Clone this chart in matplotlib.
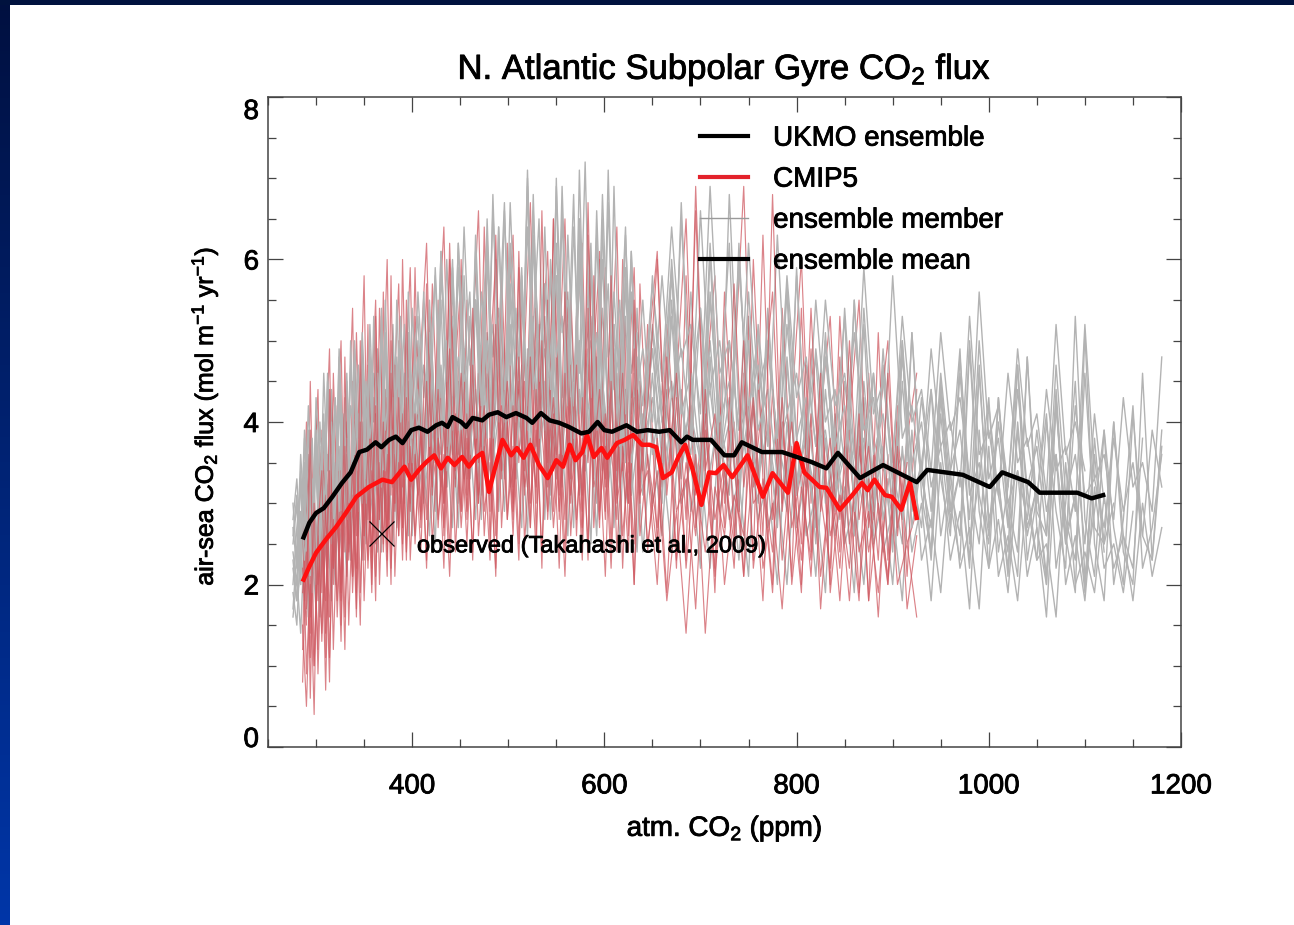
import numpy as np
import matplotlib
matplotlib.use('Agg')
import matplotlib.pyplot as plt
import matplotlib.patheffects as pe
import matplotlib.transforms as mtransforms
from matplotlib.colors import LinearSegmentedColormap
from matplotlib.lines import Line2D
from matplotlib.patches import Rectangle
from matplotlib.ticker import MultipleLocator

plt.rcParams['font.family'] = ['Liberation Sans', 'DejaVu Sans']
plt.rcParams['mathtext.fontset'] = 'custom'
plt.rcParams['mathtext.rm'] = 'Liberation Sans'
plt.rcParams['mathtext.it'] = 'Liberation Sans:italic'
plt.rcParams['mathtext.bf'] = 'Liberation Sans:bold'
plt.rcParams['mathtext.default'] = 'regular'

# ---- ensemble means (atm. CO2 in ppm, flux in mol m-2 yr-1) ----
UKMO_MEAN_PPM = [287, 293, 300, 308, 317, 327, 336, 345, 353, 362, 368, 376, 383, 390,
                 399, 407, 416, 425, 431, 437, 442, 451, 456, 463, 473, 480, 489, 498,
                 508, 519, 525, 534, 543, 553, 563, 576, 584, 593, 600, 608, 623, 634,
                 645, 657, 668, 680, 686, 692, 711, 725, 735, 743, 764, 785, 795, 815,
                 831, 843, 866, 890, 925, 936, 973, 1001, 1014, 1041, 1053, 1092, 1107, 1119]
UKMO_MEAN_FLUX = [2.58, 2.76, 2.88, 2.94, 3.08, 3.25, 3.38, 3.63, 3.66, 3.75, 3.69, 3.78, 3.82, 3.74,
                  3.90, 3.93, 3.88, 3.96, 3.99, 3.94, 4.06, 4.00, 3.94, 4.05, 4.02, 4.09, 4.12, 4.06,
                  4.11, 4.05, 3.99, 4.11, 4.02, 3.99, 3.94, 3.86, 3.88, 4.00, 3.90, 3.88, 3.96, 3.88,
                  3.90, 3.88, 3.90, 3.75, 3.82, 3.78, 3.78, 3.59, 3.59, 3.75, 3.63, 3.63, 3.59, 3.51,
                  3.43, 3.62, 3.31, 3.47, 3.26, 3.41, 3.35, 3.20, 3.38, 3.26, 3.13, 3.13, 3.06, 3.10]

CMIP5_MEAN_PPM = [287, 293, 300, 310, 321, 331, 342, 355, 369, 379, 392, 399, 407, 415,
                  423, 430, 437, 444, 452, 459, 466, 473, 480, 485, 494, 503, 509, 516,
                  523, 532, 541, 550, 557, 564, 570, 577, 582, 589, 597, 603, 613, 621,
                  630, 639, 647, 654, 661, 670, 677, 684, 692, 701, 709, 716, 724, 733,
                  749, 765, 775, 791, 800, 808, 824, 831, 845, 858, 868, 874, 881, 892,
                  899, 909, 918, 925]
CMIP5_MEAN_FLUX = [2.06, 2.22, 2.39, 2.55, 2.71, 2.88, 3.08, 3.20, 3.29, 3.26, 3.45, 3.29, 3.41, 3.51,
                   3.59, 3.43, 3.56, 3.47, 3.57, 3.45, 3.56, 3.62, 3.14, 3.38, 3.78, 3.59, 3.68, 3.56,
                   3.72, 3.47, 3.31, 3.53, 3.45, 3.72, 3.53, 3.63, 3.84, 3.57, 3.68, 3.56, 3.74, 3.78,
                   3.84, 3.72, 3.72, 3.69, 3.31, 3.38, 3.57, 3.72, 3.41, 2.98, 3.38, 3.37, 3.47, 3.32,
                   3.59, 3.08, 3.37, 3.13, 3.74, 3.38, 3.20, 3.19, 2.92, 3.10, 3.25, 3.16, 3.29, 3.10,
                   3.08, 2.92, 3.26, 2.82]

# ---- individual members ----
UKMO_PPM = [276, 280, 284, 288, 292, 296, 300, 304, 308, 312, 316, 320, 324, 328, 332, 336,
            340, 344, 348, 352, 356, 360, 364, 368, 372, 376, 380, 384, 388, 392, 396, 400,
            406, 412, 418, 424, 430, 436, 442, 448, 454, 460, 466, 472, 478, 484, 490, 496,
            502, 508, 514, 520, 526, 532, 538, 544, 550, 556, 562, 568, 574, 580, 586, 592,
            598, 604, 610, 616, 622, 628, 634, 640,
            650, 660, 670, 680, 690, 700, 710, 720, 730, 740, 750, 760, 770, 780, 790, 800,
            810, 820, 830, 840, 850, 860, 870, 880, 890, 900, 910, 920, 930, 940, 950, 960,
            970, 980, 990, 1000, 1010, 1020, 1030, 1040, 1050, 1060, 1070, 1080, 1090, 1100,
            1110, 1120, 1130, 1140, 1150, 1160, 1170, 1180]

UKMO_MEMBERS = [
    [2.2, 1.8, 2.9, 2.3, 3.6, 2.6, 4.1, 2.8, 3.4, 2.2, 4.4, 3.1, 3.7, 2.7, 4.6, 3.0, 4.0, 3.3, 5.0, 3.2, 4.2, 2.9, 4.9, 3.5, 4.4, 3.1, 5.2, 3.6, 4.1, 3.2, 4.8, 3.7,
     4.6, 3.5, 5.3, 3.9, 4.4, 3.3, 5.7, 4.0, 4.8, 3.6, 6.0, 4.2, 4.5, 3.7, 6.4, 4.3, 5.1, 3.8, 5.5, 4.1, 6.8, 4.4, 4.9, 3.5, 5.8, 4.0, 5.2, 3.9, 6.2, 4.6, 5.0, 3.6, 5.4, 4.1, 4.7, 3.4, 5.9, 4.3, 4.5, 3.7,
     5.1, 4.0, 4.5, 3.3, 5.6, 3.8, 4.4, 3.4, 5.0, 3.9, 4.2, 3.2, 5.4, 3.6, 4.1, 3.1, 4.7, 3.7, 3.9, 2.9, 4.5, 3.4, 3.8, 2.8, 4.9, 3.3, 3.6, 3.0, 4.3, 3.2, 3.7, 2.7, 4.6, 3.1, 3.5, 2.6, 4.0, 3.0, 3.4, 2.8, 3.9, 2.9, 3.6, 2.5, 4.2, 3.1, 3.3, 2.7, 3.8, 2.9, 3.5, 2.6, 3.9, 3.2],
    [1.7, 2.4, 2.0, 3.3, 1.6, 2.9, 3.5, 2.1, 3.9, 2.6, 3.2, 2.4, 4.3, 2.8, 3.6, 2.5, 4.5, 2.9, 3.4, 2.6, 4.7, 3.0, 3.8, 2.7, 5.1, 3.1, 3.9, 2.9, 4.6, 3.3, 4.0, 2.8,
     5.0, 3.2, 4.3, 2.9, 5.5, 3.4, 4.1, 3.0, 5.8, 3.6, 4.4, 3.1, 6.1, 3.8, 4.2, 3.3, 5.6, 3.5, 4.7, 3.2, 6.3, 3.9, 4.5, 3.1, 7.0, 3.7, 4.8, 3.4, 5.9, 3.6, 4.3, 3.0, 6.5, 3.8, 4.6, 3.2, 5.3, 3.5, 4.0, 3.1,
     4.6, 3.0, 5.3, 3.4, 4.1, 2.8, 6.1, 3.5, 4.3, 2.9, 5.0, 3.3, 3.9, 2.7, 4.8, 3.2, 4.0, 2.5, 4.4, 3.1, 3.6, 2.6, 5.2, 3.0, 3.7, 2.4, 4.5, 2.9, 3.5, 2.3, 4.1, 2.8, 3.4, 2.2, 4.7, 2.7, 3.3, 2.1, 3.9, 2.6, 3.2, 2.0, 4.3, 2.5, 3.1, 1.9, 3.6, 2.4],
    [2.6, 3.1, 2.2, 3.8, 2.7, 3.3, 2.0, 4.0, 3.0, 3.6, 2.5, 4.2, 3.4, 3.9, 2.8, 4.7, 3.6, 4.1, 3.0, 4.5, 3.8, 4.3, 3.2, 5.3, 3.9, 4.4, 3.3, 4.8, 4.0, 4.6, 3.5, 5.4,
     4.1, 4.7, 3.7, 5.9, 4.3, 5.0, 3.9, 6.2, 4.5, 4.9, 3.8, 5.6, 4.6, 5.2, 4.0, 6.6, 4.7, 5.4, 4.1, 7.1, 4.4, 5.0, 3.9, 6.0, 4.8, 5.3, 4.2, 6.4, 4.6, 7.2, 4.3, 5.1, 4.0, 6.7, 4.5, 5.5, 4.1, 6.1, 4.4, 4.9,
     4.0, 5.8, 4.3, 4.9, 3.8, 6.6, 4.4, 5.0, 3.9, 5.9, 4.2, 4.7, 3.7, 6.3, 4.1, 4.6, 3.6, 5.5, 4.0, 4.4, 3.5, 5.1, 3.9, 4.3, 3.4, 5.8, 3.8, 4.2, 3.3, 4.9, 3.7, 4.0, 3.2, 5.3, 3.6, 3.9, 3.1, 4.6, 3.5, 3.8, 3.0, 4.4, 3.4, 3.7, 2.9, 5.2, 3.3, 3.6, 2.8, 4.3, 3.2, 3.5, 2.9, 4.8],
    [1.9, 1.5, 2.5, 1.8, 3.0, 2.2, 2.7, 1.6, 3.3, 2.4, 2.9, 2.0, 3.5, 2.6, 3.1, 2.3, 3.9, 2.8, 3.4, 2.5, 4.1, 3.0, 3.5, 2.4, 4.2, 3.2, 3.7, 2.7, 4.4, 3.1, 3.8, 2.6,
     4.3, 3.0, 3.7, 2.5, 4.6, 3.2, 3.9, 2.7, 4.9, 3.3, 4.0, 2.8, 5.1, 3.5, 4.1, 2.9, 4.7, 3.4, 3.9, 2.6, 5.3, 3.6, 4.2, 2.8, 4.8, 3.3, 4.0, 2.7, 5.0, 3.4, 3.8, 2.6, 4.6, 3.2, 3.9, 2.5, 4.4, 3.1, 3.7, 2.4,
     3.9, 2.6, 4.4, 3.0, 3.5, 2.2, 4.8, 2.9, 3.6, 2.3, 4.2, 2.8, 3.3, 2.0, 4.0, 2.7, 3.4, 2.1, 3.8, 2.6, 3.2, 1.9, 4.3, 2.5, 3.1, 2.0, 3.7, 2.4, 3.0, 1.8, 3.5, 2.3, 2.9, 1.7, 3.9, 2.2, 2.8, 1.9, 3.4, 2.1, 2.7, 1.6, 3.6, 2.0, 2.6, 1.8, 3.2, 2.2, 2.5, 1.9, 2.9],
    [2.4, 2.0, 3.4, 2.5, 3.0, 1.9, 3.7, 3.1, 2.6, 4.5, 2.9, 3.5, 2.7, 4.1, 3.3, 2.8, 4.9, 3.2, 3.9, 3.0, 4.4, 3.6, 3.1, 5.4, 3.5, 4.2, 3.2, 4.7, 3.8, 3.3, 5.6, 3.9,
     4.4, 3.4, 5.0, 4.0, 3.6, 6.0, 4.2, 4.8, 3.5, 5.3, 4.3, 3.8, 6.5, 4.4, 5.1, 3.7, 5.7, 4.5, 3.9, 6.9, 4.6, 5.2, 3.8, 5.8, 4.2, 3.6, 6.3, 4.5, 5.0, 3.7, 6.0, 4.3, 3.9, 7.1, 4.4, 4.9, 3.6, 5.6, 4.1, 3.7,
     4.9, 3.5, 6.0, 4.2, 3.6, 5.4, 4.0, 3.3, 6.8, 4.1, 3.4, 5.2, 3.9, 3.1, 5.7, 3.8, 3.2, 4.9, 3.7, 3.0, 5.4, 3.6, 2.9, 4.6, 3.5, 2.8, 5.0, 3.4, 2.7, 4.4, 3.3, 2.6, 4.8, 3.2, 2.5, 4.2, 3.1, 2.4, 4.7, 3.0, 2.3, 4.0, 2.9, 2.2, 5.3, 2.8, 2.1, 3.9, 2.7, 2.0, 4.1, 2.6, 2.3, 3.7],
    [3.0, 2.3, 3.6, 2.8, 4.2, 3.1, 3.7, 2.6, 4.6, 3.4, 4.0, 2.9, 4.9, 3.6, 4.3, 3.1, 5.0, 3.8, 4.5, 3.3, 5.2, 4.0, 4.6, 3.4, 5.5, 4.1, 4.7, 3.6, 5.3, 4.2, 4.9, 3.8,
     5.6, 4.3, 5.1, 3.9, 6.1, 4.5, 5.3, 4.1, 6.4, 4.7, 5.5, 4.2, 6.0, 4.8, 5.4, 4.0, 6.7, 4.9, 5.6, 4.3, 6.2, 5.0, 5.7, 4.4, 6.9, 5.1, 5.5, 4.2, 6.5, 4.9, 5.3, 4.1, 6.8, 4.8, 5.2, 4.0, 6.3, 4.6, 5.1, 4.2,
     5.7, 4.5, 6.4, 4.8, 5.2, 4.1, 6.9, 4.6, 5.0, 3.9, 6.2, 4.4, 4.9, 3.8, 5.8, 4.3, 4.8, 3.7, 5.5, 4.2, 4.6, 3.6, 5.9, 4.1, 4.5, 3.5, 5.3, 4.0, 4.4, 3.4, 5.1, 3.9, 4.3, 3.3, 5.6, 3.8, 4.2, 3.2, 4.9, 3.7, 4.1, 3.1, 5.2, 3.6, 4.0, 3.4],
    [1.6, 2.1, 1.4, 2.6, 1.9, 2.4, 1.7, 3.0, 2.2, 2.7, 1.8, 3.2, 2.4, 2.9, 2.1, 3.4, 2.6, 3.1, 2.3, 3.6, 2.8, 3.3, 2.4, 3.8, 2.9, 3.4, 2.5, 3.9, 3.0, 3.5, 2.6, 4.0,
     3.1, 3.6, 2.6, 4.2, 3.2, 3.7, 2.7, 4.5, 3.3, 3.8, 2.8, 4.7, 3.4, 3.9, 2.9, 4.4, 3.2, 3.6, 2.7, 4.9, 3.5, 4.0, 2.8, 4.6, 3.3, 3.8, 2.6, 4.3, 3.1, 3.7, 2.5, 4.8, 3.4, 3.9, 2.7, 4.2, 3.0, 3.5, 2.4, 4.1,
     3.0, 3.6, 2.4, 4.4, 2.9, 3.5, 2.2, 4.0, 2.8, 3.3, 2.1, 4.6, 2.7, 3.2, 2.0, 3.8, 2.6, 3.1, 1.9, 4.1, 2.5, 3.0, 2.0, 3.6, 2.4, 2.9, 1.8, 3.9, 2.3, 2.8, 1.9, 3.4, 2.2, 2.7, 1.7, 3.7, 2.1, 2.6, 1.8, 3.2, 2.3, 2.5, 1.6, 3.5, 2.0, 2.4, 1.9, 3.1, 2.2, 2.6, 1.8, 3.0, 2.1, 2.7],
    [2.8, 3.3, 2.5, 3.9, 3.2, 2.4, 4.3, 3.5, 2.8, 4.6, 3.6, 2.9, 4.8, 3.8, 3.0, 4.2, 3.9, 3.2, 5.1, 4.0, 3.3, 4.6, 4.1, 3.4, 5.0, 4.2, 3.5, 4.5, 4.3, 3.6, 5.1, 4.4,
     3.9, 5.4, 4.5, 3.7, 5.8, 4.6, 3.8, 6.2, 4.7, 4.0, 5.5, 4.8, 4.1, 6.6, 4.9, 4.2, 6.0, 5.0, 4.3, 6.4, 4.8, 4.1, 5.7, 4.9, 4.0, 6.9, 4.7, 4.2, 6.1, 4.6, 3.9, 6.6, 4.5, 3.8, 5.6, 4.4, 3.7, 6.0, 4.3, 3.9,
     5.2, 4.2, 3.6, 6.5, 4.1, 3.5, 5.5, 4.0, 3.4, 6.1, 3.9, 3.3, 5.0, 3.8, 3.2, 5.8, 3.7, 3.1, 4.8, 3.6, 3.0, 5.5, 3.5, 2.9, 4.6, 3.4, 2.8, 5.1, 3.3, 2.7, 4.5, 3.2, 2.6, 5.0, 3.1, 2.5, 4.3, 3.0, 2.4, 4.8, 2.9, 2.6, 4.2, 2.8, 2.3, 4.6, 2.7, 2.5, 4.0, 2.6, 2.2, 3.8],
    [2.0, 2.7, 3.2, 2.3, 2.9, 3.8, 2.4, 3.3, 4.0, 2.7, 3.5, 4.3, 2.9, 3.7, 4.5, 3.0, 3.8, 4.7, 3.1, 4.0, 4.9, 3.3, 4.1, 5.1, 3.4, 4.2, 5.0, 3.5, 4.3, 5.2, 3.6, 4.4,
     5.3, 3.7, 4.6, 5.8, 3.8, 4.7, 6.0, 3.9, 4.8, 5.6, 3.8, 4.9, 6.3, 4.0, 5.0, 6.7, 4.1, 4.8, 5.9, 3.9, 5.1, 6.5, 4.0, 4.9, 5.8, 3.8, 4.7, 6.8, 4.1, 5.0, 6.2, 3.9, 4.6, 5.7, 3.7, 4.8, 6.4, 3.8, 4.5, 5.5,
     3.6, 4.4, 5.9, 3.5, 4.3, 5.4, 3.4, 4.2, 6.2, 3.3, 4.1, 5.1, 3.2, 4.0, 5.6, 3.1, 3.9, 4.8, 3.0, 3.8, 5.3, 2.9, 3.7, 4.6, 2.8, 3.6, 5.0, 2.7, 3.5, 4.4, 2.6, 3.4, 4.9, 2.5, 3.3, 4.3, 2.4, 3.2, 4.7, 2.3, 3.1, 4.1, 2.2, 3.0, 4.5, 2.1, 2.9, 3.9, 2.0, 2.8, 4.2, 2.2, 2.7, 3.6],
    [2.3, 1.8, 2.2, 2.9, 2.1, 3.1, 2.5, 3.7, 2.3, 3.0, 4.1, 2.6, 3.3, 2.4, 4.0, 2.8, 3.6, 2.6, 4.4, 3.0, 3.8, 2.7, 4.3, 3.2, 3.9, 2.8, 4.6, 3.3, 4.0, 3.0, 4.5, 3.4,
     4.2, 3.1, 4.9, 3.5, 4.3, 3.2, 5.2, 3.6, 4.4, 3.3, 5.5, 3.7, 4.6, 3.4, 5.1, 3.8, 4.5, 3.3, 5.7, 3.9, 4.7, 3.5, 5.3, 3.7, 4.6, 3.2, 5.6, 3.8, 4.4, 3.4, 5.9, 3.9, 4.5, 3.3, 5.2, 3.6, 4.3, 3.1, 5.4, 3.7,
     4.3, 3.2, 5.5, 3.6, 4.2, 3.0, 5.0, 3.5, 4.0, 2.9, 5.3, 3.4, 3.9, 2.8, 4.7, 3.3, 3.8, 2.7, 5.1, 3.2, 3.7, 2.6, 4.5, 3.1, 3.6, 2.5, 4.9, 3.0, 3.5, 2.4, 4.3, 2.9, 3.4, 2.3, 4.6, 2.8, 3.3, 2.2, 4.0, 2.7, 3.2, 2.1, 4.4, 2.6, 3.1, 2.0, 3.8, 2.5, 3.0],
    [2.5, 3.0, 2.0, 3.5, 2.8, 2.2, 3.9, 3.0, 2.5, 4.4, 3.2, 2.6, 4.6, 3.4, 2.8, 5.0, 3.5, 2.9, 4.7, 3.7, 3.0, 5.3, 3.8, 3.1, 4.9, 3.9, 3.2, 5.5, 4.0, 3.3, 5.1, 4.1,
     3.4, 5.6, 4.2, 3.5, 6.1, 4.3, 3.6, 5.9, 4.4, 3.7, 6.3, 4.5, 3.8, 6.8, 4.6, 3.9, 6.2, 4.4, 3.7, 7.0, 4.5, 3.8, 6.4, 4.3, 3.6, 6.6, 4.2, 3.5, 7.1, 4.4, 3.7, 6.3, 4.3, 3.6, 6.9, 4.2, 3.5, 6.1, 4.1, 3.4,
     5.8, 4.0, 3.3, 6.7, 3.9, 3.2, 5.6, 3.8, 3.1, 6.2, 3.7, 3.0, 5.3, 3.6, 2.9, 5.9, 3.5, 2.8, 5.0, 3.4, 2.7, 5.5, 3.3, 2.6, 4.7, 3.2, 2.5, 5.1, 3.1, 2.4, 4.4, 3.0, 2.3, 4.9, 2.9, 2.2, 4.3, 2.8, 2.1, 4.8, 2.7, 2.0, 4.2, 2.6, 1.9, 5.1, 2.5, 1.8, 4.0, 2.4, 2.0, 4.6, 2.3, 3.9],
    [2.7, 2.2, 3.3, 2.6, 3.9, 2.9, 3.4, 2.5, 4.1, 3.1, 3.6, 2.7, 4.4, 3.3, 3.8, 2.9, 4.6, 3.4, 4.0, 3.0, 4.8, 3.6, 4.2, 3.2, 5.0, 3.7, 4.3, 3.3, 4.9, 3.8, 4.5, 3.5,
     4.8, 3.6, 5.5, 4.0, 4.7, 3.7, 5.9, 4.2, 4.9, 3.8, 6.1, 4.3, 5.0, 3.9, 6.4, 4.4, 5.2, 4.0, 5.8, 4.2, 6.6, 4.5, 5.1, 3.9, 6.2, 4.3, 5.0, 3.8, 6.5, 4.4, 5.2, 3.9, 6.0, 4.2, 4.9, 3.7, 5.7, 4.1, 4.8, 3.8,
     4.9, 3.7, 5.8, 4.1, 4.6, 3.5, 6.2, 4.0, 4.5, 3.4, 5.6, 3.9, 4.4, 3.3, 5.2, 3.8, 4.3, 3.2, 5.0, 3.7, 4.2, 3.1, 5.4, 3.6, 4.1, 3.0, 4.8, 3.5, 4.0, 2.9, 4.6, 3.4, 3.9, 2.8, 5.0, 3.3, 3.8, 2.7, 4.4, 3.2, 3.7, 2.6, 4.7, 3.1, 3.6, 2.5, 4.1, 3.0],
]

CMIP5_PPM = [286, 290, 294, 298, 302, 306, 310, 314, 318, 322, 326, 330, 334, 338, 342,
             346, 350, 354, 358, 362, 366, 370, 374, 378, 382, 386, 390, 394, 398,
             403, 409, 415, 421, 427, 433, 439, 445, 451, 457, 463, 469, 475, 481, 487, 493,
             499, 505, 511, 517, 523, 529, 535, 541, 547, 553, 559, 565, 571, 577, 583, 589,
             595, 601, 607, 613, 619, 625, 631, 637,
             645, 655, 665, 675, 685, 695, 705, 715, 725, 735, 745, 755, 765, 775, 785, 795,
             805, 815, 825, 835, 845, 855, 865, 875, 885, 895, 905, 915, 925]

CMIP5_MEMBERS = [
    [1.2, 3.4, 0.6, 2.9, 1.8, 3.8, 1.1, 3.3, 2.2, 4.2, 1.5, 3.6, 2.4, 4.5, 1.7, 3.9, 2.6, 5.2, 2.0, 4.1, 2.8, 5.6, 2.3, 4.4, 2.9, 5.0, 2.5, 4.6, 3.0,
     5.9, 2.7, 4.5, 3.1, 5.5, 2.6, 4.8, 3.2, 6.0, 2.8, 4.3, 3.0, 5.4, 2.5, 4.7, 3.3, 6.2, 2.9, 4.4, 3.1, 5.7, 2.6, 4.6, 3.2, 6.5, 2.8, 4.2, 3.0, 5.3, 2.7, 4.9, 3.3, 6.1, 2.9, 4.5, 3.1, 5.6, 2.6, 4.3, 3.0,
     5.2, 2.5, 4.4, 2.2, 5.8, 2.7, 4.1, 1.9, 5.0, 2.6, 4.6, 2.3, 6.3, 2.8, 4.0, 2.1, 5.4, 2.4, 4.2, 2.0, 4.8, 2.5, 3.9, 1.8, 5.1, 2.3, 4.0, 2.1, 4.4],
    [2.8, 0.9, 2.1, 0.4, 3.0, 1.3, 2.6, 0.8, 3.5, 1.6, 2.9, 1.2, 3.7, 1.9, 3.1, 1.5, 4.0, 2.2, 3.4, 1.8, 4.3, 2.4, 3.6, 2.0, 4.7, 2.6, 3.8, 2.3, 4.2,
     2.5, 3.9, 2.2, 4.8, 2.7, 4.0, 2.4, 5.1, 2.9, 4.1, 2.3, 4.6, 2.6, 3.8, 2.1, 5.3, 2.8, 4.2, 2.5, 4.9, 2.7, 4.4, 2.2, 5.5, 2.9, 4.0, 2.4, 4.7, 2.6, 4.3, 2.3, 5.8, 2.8, 4.1, 2.5, 4.6, 2.2, 3.9, 2.0, 4.5,
     2.4, 3.8, 1.9, 4.3, 2.2, 3.6, 1.4, 3.2, 2.6, 4.0, 2.1, 3.5, 1.8, 4.4, 2.3, 3.7, 2.0, 4.1, 1.7, 3.4, 2.2, 3.9, 1.9, 3.3, 1.6, 3.6, 2.0, 2.5, 1.6],
    [2.2, 1.5, 3.9, 1.0, 2.7, 3.4, 1.4, 4.4, 2.0, 3.1, 1.8, 4.8, 2.3, 3.5, 1.9, 5.0, 2.6, 3.7, 2.2, 5.3, 2.8, 4.0, 2.4, 5.8, 3.0, 4.3, 2.7, 5.5, 3.2,
     4.1, 2.9, 5.7, 3.3, 4.4, 3.0, 6.0, 3.4, 4.6, 3.1, 5.4, 3.5, 4.2, 2.9, 6.3, 3.6, 4.5, 3.2, 5.9, 3.4, 4.8, 3.0, 6.6, 3.5, 4.3, 3.1, 5.6, 3.3, 4.7, 2.9, 6.7, 3.6, 4.4, 3.2, 5.8, 3.4, 4.6, 3.0, 5.5, 3.3,
     4.2, 6.0, 3.1, 4.6, 2.8, 6.6, 3.4, 4.1, 2.7, 5.7, 3.2, 4.3, 2.6, 6.8, 3.0, 4.0, 2.5, 5.4, 2.9, 3.8, 2.4, 5.0, 2.8, 3.7, 2.3, 4.6, 2.7, 3.5],
    [1.9, 2.5, 1.1, 3.2, 2.0, 2.7, 0.7, 3.0, 2.3, 2.9, 1.3, 3.5, 2.5, 3.1, 1.6, 3.8, 2.7, 3.3, 1.9, 4.1, 2.9, 3.4, 2.1, 4.4, 3.0, 3.6, 2.3, 4.0, 3.1,
     3.7, 2.4, 4.3, 3.2, 3.8, 2.2, 4.6, 3.3, 3.9, 2.5, 4.2, 3.1, 3.6, 2.3, 4.9, 3.4, 4.0, 2.6, 4.5, 3.2, 3.7, 2.4, 5.0, 3.3, 3.9, 2.2, 4.4, 3.1, 3.8, 2.3, 4.7, 3.2, 3.6, 2.1, 4.3, 3.0, 3.5, 2.4, 4.6, 3.1,
     3.4, 2.0, 4.2, 2.9, 3.3, 1.7, 3.9, 2.8, 3.5, 2.2, 4.5, 3.0, 3.2, 1.9, 4.0, 2.7, 3.4, 2.1, 4.3, 2.6, 3.1, 1.8, 3.7, 2.4, 3.3, 2.0, 3.6, 2.5, 2.9],
    [3.1, 1.7, 4.5, 2.4, 1.2, 3.9, 2.8, 1.6, 4.6, 3.0, 1.9, 4.3, 3.3, 2.1, 5.1, 3.4, 2.3, 4.7, 3.6, 2.5, 5.4, 3.7, 2.6, 5.0, 3.8, 2.8, 6.0, 3.9, 2.9,
     5.3, 4.0, 2.8, 5.7, 3.8, 2.7, 6.2, 3.9, 2.9, 5.5, 4.1, 3.0, 6.4, 3.8, 2.6, 5.8, 4.0, 2.8, 6.1, 3.7, 2.7, 5.4, 3.9, 2.9, 6.5, 4.0, 2.8, 5.6, 3.8, 2.6, 6.3, 3.9, 2.7, 5.9, 3.7, 2.8, 6.0, 3.6, 2.5, 5.7,
     3.5, 2.4, 5.2, 3.6, 2.3, 6.9, 3.4, 2.2, 5.6, 3.5, 2.1, 6.0, 3.3, 2.0, 5.4, 3.2, 1.9, 4.9, 3.1, 2.2, 5.3, 3.0, 1.8, 4.6, 2.9, 2.0, 4.2],
    [0.8, 2.4, 1.6, 3.0, 0.9, 2.5, 1.8, 3.4, 1.2, 2.8, 2.0, 3.7, 1.5, 3.0, 2.2, 4.0, 1.8, 3.2, 2.4, 4.2, 2.0, 3.4, 2.5, 4.6, 2.1, 3.5, 2.7, 4.3, 2.3,
     3.6, 2.8, 4.5, 2.5, 3.8, 3.0, 4.9, 2.4, 3.9, 2.9, 4.7, 2.6, 3.7, 3.1, 5.2, 2.7, 4.0, 3.0, 4.8, 2.5, 3.8, 3.2, 5.0, 2.8, 4.1, 2.9, 4.6, 2.6, 3.9, 3.1, 5.4, 2.7, 4.0, 2.8, 4.5, 2.4, 3.7, 3.0, 4.9, 2.6,
     3.6, 2.7, 4.8, 2.3, 3.5, 2.6, 4.4, 2.1, 3.4, 2.5, 5.0, 2.2, 3.3, 2.4, 4.3, 2.0, 3.2, 2.3, 4.6, 1.9, 3.1, 2.2, 4.1, 1.8, 3.0, 2.1, 3.7, 1.7, 2.6],
    [2.5, 4.0, 1.4, 3.3, 4.4, 1.9, 3.6, 4.9, 2.2, 3.8, 5.0, 2.4, 4.0, 5.4, 2.6, 4.2, 5.8, 2.8, 4.3, 5.5, 3.0, 4.5, 6.0, 3.1, 4.6, 5.7, 3.2, 4.8, 5.9,
     3.3, 4.9, 6.2, 3.4, 5.0, 6.4, 3.5, 4.7, 5.8, 3.3, 5.1, 6.6, 3.6, 4.8, 6.0, 3.4, 5.2, 6.3, 3.5, 4.9, 6.7, 3.7, 5.0, 6.1, 3.4, 4.8, 6.5, 3.6, 5.1, 6.2, 3.5, 4.9, 6.0, 3.3, 4.7, 6.4, 3.4, 4.6, 5.9, 3.2,
     4.8, 6.1, 3.3, 4.5, 6.5, 3.1, 4.4, 5.8, 3.0, 4.6, 6.9, 3.2, 4.3, 5.6, 2.9, 4.2, 6.0, 3.0, 4.1, 5.3, 2.8, 4.0, 5.5, 2.7, 3.9, 5.0, 2.6, 3.8, 4.6],
    [1.5, 0.5, 2.0, 1.0, 2.6, 1.4, 3.1, 1.1, 2.8, 1.8, 3.4, 1.6, 3.0, 2.1, 3.8, 1.9, 3.2, 2.3, 4.1, 2.1, 3.5, 2.5, 4.3, 2.2, 3.6, 2.6, 4.1, 2.4, 3.7,
     2.6, 3.9, 2.3, 4.4, 2.8, 3.6, 2.1, 4.1, 2.7, 3.8, 2.4, 4.6, 2.9, 3.5, 2.2, 4.2, 2.8, 3.7, 2.3, 4.5, 3.0, 3.9, 2.4, 4.0, 2.7, 3.6, 2.1, 4.3, 2.8, 3.8, 2.5, 4.8, 2.9, 3.7, 2.2, 4.1, 2.6, 3.5, 2.0, 3.9,
     2.5, 3.4, 1.8, 2.9, 1.4, 3.3, 2.4, 3.8, 2.0, 3.1, 2.6, 4.2, 2.2, 3.0, 1.7, 3.5, 2.3, 3.9, 2.1, 3.2, 1.8, 3.6, 2.4, 2.9, 1.9, 3.3],
]

OBS_PPM = 368
OBS_FLUX = 2.63

MEMBER_GREY = '#b3b3b3'
MEMBER_RED = '#cf5a62'
MEAN_RED = '#ff1010'

# a hairline outline gives the text the heavier look of the printed figure
HEAVY = [pe.withStroke(linewidth=0.6, foreground='black')]


def _band_background(fig):
    # slide frame: dark strip along the top, blue gradient down the left edge
    W, H = 1294, 925
    cmap = LinearSegmentedColormap.from_list('slide', ['#001040', '#0036a8'])
    side = fig.add_axes([0, 0, 10 / W, 1])
    side.imshow(np.linspace(0, 1, 256).reshape(-1, 1), aspect='auto', cmap=cmap)
    side.axis('off')
    fig.add_artist(Rectangle((0, 1 - 5 / H), 1, 5 / H, transform=fig.transFigure,
                             color='#00123e', lw=0, zorder=10))


def main():
    fig = plt.figure(figsize=(12.94, 9.25), dpi=100)
    fig.patch.set_facecolor('white')
    _band_background(fig)

    ax = fig.add_axes([268 / 1294, 1 - 747 / 925, 913 / 1294, 650 / 925])

    x_ukmo = np.array(UKMO_PPM, dtype=float)
    x_cmip = np.array(CMIP5_PPM, dtype=float)
    for i, ys in enumerate(UKMO_MEMBERS):
        n = min(len(ys), len(x_ukmo))
        ax.plot(x_ukmo[:n], ys[:n], color=MEMBER_GREY, lw=1.0, zorder=2 + (i % 3) * 0.1)
    for i, ys in enumerate(CMIP5_MEMBERS):
        n = min(len(ys), len(x_cmip))
        ax.plot(x_cmip[:n], ys[:n], color=MEMBER_RED, lw=0.85, alpha=0.75,
                zorder=2.05 + (i % 3) * 0.1)

    ax.plot(UKMO_MEAN_PPM, UKMO_MEAN_FLUX, color='black', lw=3.2, zorder=6,
            solid_joinstyle='round')
    ax.plot(CMIP5_MEAN_PPM, CMIP5_MEAN_FLUX, color=MEAN_RED, lw=3.2, zorder=5,
            solid_joinstyle='round')

    ax.plot([OBS_PPM], [OBS_FLUX], marker='x', ms=18, mew=0.9, color='black',
            ls='none', zorder=7)
    obs = ax.text(405, 2.47, 'observed (Takahashi et al., 2009)', fontsize=17,
                  ha='left', va='center', zorder=7)

    ax.set_xlim(250, 1200)
    ax.set_ylim(0, 8)
    ax.xaxis.set_major_locator(MultipleLocator(200))
    ax.xaxis.set_minor_locator(MultipleLocator(50))
    ax.yaxis.set_major_locator(MultipleLocator(2))
    ax.yaxis.set_minor_locator(MultipleLocator(0.5))
    ax.tick_params(which='both', direction='in', top=True, right=True,
                   color='#444444', width=0.9)
    ax.tick_params(which='major', length=11)
    ax.tick_params(which='minor', length=5.5)
    ax.tick_params(axis='x', labelsize=20, pad=19)
    ax.tick_params(axis='y', labelsize=20, pad=6.5)
    for sp in ax.spines.values():
        sp.set_color('#444444')
        sp.set_linewidth(1.1)

    # the end labels of the value axis are pulled inside the frame
    ticks = ax.yaxis.get_major_ticks()
    locs = ax.yaxis.get_majorticklocs()
    for tick, val in zip(ticks, locs):
        if np.isclose(val, 8):
            shift = -12
        elif np.isclose(val, 0):
            shift = 10
        else:
            continue
        off = mtransforms.ScaledTranslation(0, shift / 100, fig.dpi_scale_trans)
        tick.label1.set_transform(tick.label1.get_transform() + off)

    title = ax.text(0.5, 1.0277, 'N. Atlantic Subpolar Gyre CO$_2$ flux',
                    transform=ax.transAxes, fontsize=25, ha='center', va='baseline')
    ax.set_xlabel('atm. CO$_2$ (ppm)', fontsize=20)
    ax.xaxis.set_label_coords(0.5, -0.103)
    ax.set_ylabel('air-sea CO$_2$ flux (mol m$^{-1}$ yr$^{-1}$)', fontsize=18)
    ax.yaxis.set_label_coords(-0.0526, 0.509)

    handles = [
        Line2D([], [], color='black', lw=3),
        Line2D([], [], color='#e3222b', lw=3),
        Line2D([], [], color='#9a9a9a', lw=1),
        Line2D([], [], color='black', lw=3),
    ]
    labels = ['UKMO ensemble', 'CMIP5', 'ensemble member', 'ensemble mean']
    leg = ax.legend(handles, labels, loc='upper left', bbox_to_anchor=(0.4732, 0.956),
                    frameon=False, fontsize=20, borderpad=0, borderaxespad=0,
                    handlelength=1.73, handletextpad=0.9, labelspacing=0.54)
    leg.set_zorder(8)

    texts = [title, obs, ax.xaxis.label, ax.yaxis.label] + list(leg.get_texts())
    texts += [t.label1 for t in ax.xaxis.get_major_ticks()]
    texts += [t.label1 for t in ax.yaxis.get_major_ticks()]
    for t in texts:
        t.set_path_effects(HEAVY)

    fig.savefig('out.png', dpi=100)


if __name__ == '__main__':
    main()
